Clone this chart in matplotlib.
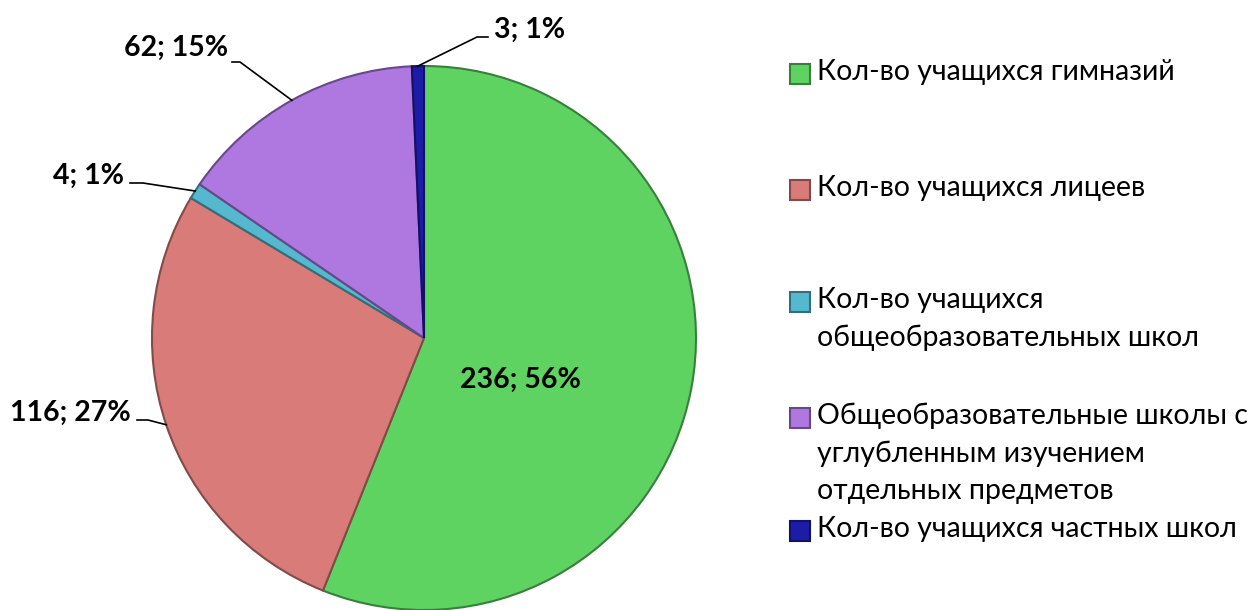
import numpy as np
import matplotlib
matplotlib.use("Agg")
import matplotlib.pyplot as plt
from matplotlib.patches import Rectangle
import matplotlib.colors as mcolors

plt.rcParams['font.family'] = ['Lato', 'Open Sans', 'DejaVu Sans']

# данные
names = ["Кол-во учащихся гимназий",
         "Кол-во учащихся лицеев",
         "Кол-во учащихся\nобщеобразовательных школ",
         "Общеобразовательные школы с\nуглубленным изучением\nотдельных предметов",
         "Кол-во учащихся частных школ"]
values = [236, 116, 4, 62, 3]
percents = [56, 27, 1, 15, 1]
colors = ["#5ED362", "#D97B79", "#55B8CF", "#AE78E0", "#1C1CA8"]

W, H = 1256, 610
fig = plt.figure(figsize=(W / 100, H / 100), dpi=100)
ax = fig.add_axes([0, 0, 1, 1])

cx, cy, r = 424, H - 338, 272
wedges, _ = ax.pie(values, colors=colors, startangle=90, counterclock=False,
                   center=(cx, cy), radius=r,
                   wedgeprops=dict(linewidth=1.5))
for w, c in zip(wedges, colors):
    w.set_edgecolor(np.array(mcolors.to_rgb(c)) * 0.6)

ax.set_xlim(0, W)
ax.set_ylim(0, H)
ax.set_aspect('equal')
ax.axis('off')

# подписи долей
lbl = ["%d; %d%%" % (v, p) for v, p in zip(values, percents)]
# (текст x, текст y, ha, конец линии, излом)
pos = [None,
       (131, 413, 'right', (137, 420), (148, 420)),
       (124, 176, 'right', (130, 183), (143, 183)),
       (228, 48, 'right', (232, 62), (240, 62)),
       (494, 30, 'left', (488, 37), (477, 37))]

fs_lbl = 20.5
ax.text(520, H - 380, lbl[0], ha='center', va='center', fontsize=fs_lbl,
        fontweight='bold')
for i in range(1, 5):
    tx, ty, ha, p0, p1 = pos[i]
    w = wedges[i]
    a = np.deg2rad((w.theta1 + w.theta2) / 2)
    ax_, ay_ = cx + r * np.cos(a), cy + r * np.sin(a)
    ax.text(tx, H - ty, lbl[i], ha=ha, va='center', fontsize=fs_lbl,
            fontweight='bold')
    ax.plot([p0[0], p1[0], ax_], [H - p0[1], H - p1[1], ay_], color='black',
            lw=1.2)

# легенда
leg_y = [74, 190, 302, 418, 531]
for name, c, y in zip(names, colors, leg_y):
    ax.add_patch(Rectangle((790, H - y - 10), 20, 20, facecolor=c,
                           edgecolor=np.array(mcolors.to_rgb(c)) * 0.6, lw=1.5))
    ax.text(817, H - y + 15, name, ha='left', va='top', fontsize=20.5,
            linespacing=1.52)

fig.savefig("out.png", dpi=100)
